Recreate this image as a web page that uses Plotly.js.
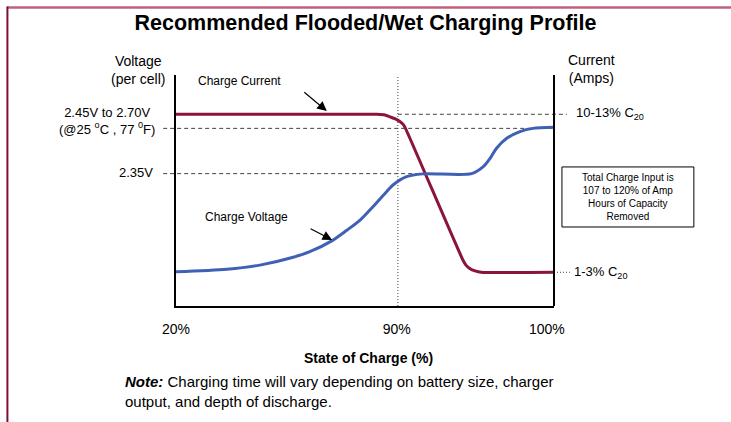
<!DOCTYPE html>
<html>
<head>
<meta charset="utf-8">
<script src="https://cdn.plot.ly/plotly-3.0.1.min.js"></script>
<style>
  html, body { margin: 0; padding: 0; background: #fff; }
  #chart { width: 731px; height: 422px; }
</style>
</head>
<body>
<div id="chart"></div>
<script>
// ---- Data (schematic units: x = position along state-of-charge axis 0..100, y = relative level 0..100)
const currentX = [0, 52.1, 53.2, 55.3, 56.6, 57.9, 59.3, 60.1, 60.8, 75.9, 76.7, 77.8, 79.1, 80.7, 100];
const currentY = [83.0, 83.0, 83.0, 82.7, 81.9, 81.1, 79.8, 78.6, 76.6, 19.9, 17.7, 16.1, 15.2, 14.6, 14.6];

const voltageX = [0, 13.5, 22.2, 31.0, 35.4, 41.2, 45.2, 48.7, 52.1, 55.7, 57.4, 61.0, 65.3, 78.2, 81.3, 83.1, 84.8, 87.5, 91.0, 94.4, 100];
const voltageY = [14.8, 15.9, 17.7, 21.1, 23.5, 28.2, 32.8, 37.2, 43.0, 49.5, 52.4, 56.0, 57.2, 57.3, 60.3, 63.9, 68.3, 72.6, 75.5, 76.9, 77.4];

// x tick labels (state of charge)
const socTickPos = [0, 58.4, 98.1];
const socTickText = ['20%', '90%', '100%'];

// reference levels
const levelCurrentHigh = 83.0;   // 10-13% C20
const levelCurrentLow = 14.6;    // 1-3% C20
const levelVoltHigh = 76.9;      // 2.45V to 2.70V
const levelVoltMid = 57.3;       // 2.35V
const soc90 = 58.7;              // 90% marker

const voltLabels = ['2.45V to 2.70V<br>(@25 <sup>o</sup>C , 77 <sup>0</sup>F)', '2.35V'];
const ampLabels = ['10-13% C<sub>20</sub>', '1-3% C<sub>20</sub>'];

const RED = '#8B1538';
const BLUE = '#4060B6';
const FONT = 'Arial, "Liberation Sans", sans-serif';
const DASH = '#444444';
const DASHSTYLE = '4px,3px';

const traces = [
  { x: currentX, y: currentY, type: 'scatter', mode: 'lines', line: { color: RED, width: 3, shape: 'spline', smoothing: 0.5 }, hoverinfo: 'skip' },
  { x: voltageX, y: voltageY, type: 'scatter', mode: 'lines', line: { color: BLUE, width: 3, shape: 'spline', smoothing: 0.8 }, hoverinfo: 'skip' }
];

// helpers: x/y range are 0..100 so paper = value/100
const P = v => v / 100;

const shapes = [
  // page border
  { type: 'line', xref: 'paper', yref: 'paper', x0: -0.447, x1: 1.47, y0: 1.292, y1: 1.292, line: { color: '#C0607E', width: 2.5 } },
  { type: 'line', xref: 'paper', yref: 'paper', x0: -0.446, x1: -0.446, y0: 1.296, y1: -0.51, line: { color: '#7E0F30', width: 2 } },
  // right axis
  { type: 'line', xref: 'paper', yref: 'paper', x0: 1, x1: 1, y0: 0, y1: 1, line: { color: '#000', width: 2 } },
  // 90% marker
  { type: 'line', xref: 'paper', yref: 'paper', x0: P(soc90), x1: P(soc90), y0: 0, y1: 1, line: { color: DASH, width: 1, dash: '1px,2px' }, layer: 'below' },
  // level lines
  { type: 'line', xref: 'paper', yref: 'paper', x0: P(soc90), x1: 1.034, y0: P(levelCurrentHigh), y1: P(levelCurrentHigh), line: { color: DASH, width: 1, dash: DASHSTYLE }, layer: 'below' },
  { type: 'line', xref: 'paper', yref: 'paper', x0: -0.034, x1: 1, y0: P(levelVoltHigh), y1: P(levelVoltHigh), line: { color: DASH, width: 1, dash: DASHSTYLE }, layer: 'below' },
  { type: 'line', xref: 'paper', yref: 'paper', x0: -0.034, x1: 0.664, y0: P(levelVoltMid), y1: P(levelVoltMid), line: { color: DASH, width: 1, dash: DASHSTYLE }, layer: 'below' },
  { type: 'line', xref: 'paper', yref: 'paper', x0: 1, x1: 1.042, y0: P(levelCurrentLow), y1: P(levelCurrentLow), line: { color: DASH, width: 1, dash: '1px,2px' }, layer: 'below' },
  // info box
  { type: 'rect', xref: 'paper', yref: 'paper', x0: 1.021, x1: 1.370, y0: 0.342, y1: 0.602, line: { color: '#000', width: 1 } }
];

const annotations = [
  { xref: 'paper', yref: 'paper', x: -0.1005, y: 1.022, text: 'Voltage<br>(per cell)', showarrow: false, xanchor: 'center', yanchor: 'middle', align: 'center', font: { family: FONT, size: 14, color: '#000' } },
  { xref: 'paper', yref: 'paper', x: 1.098, y: 1.028, text: 'Current<br>(Amps)', showarrow: false, xanchor: 'center', yanchor: 'middle', align: 'center', font: { family: FONT, size: 14, color: '#000' } },
  { xref: 'paper', yref: 'paper', x: -0.050, y: 0.799, text: voltLabels[0], showarrow: false, xanchor: 'right', yanchor: 'middle', align: 'center', font: { family: FONT, size: 13, color: '#000' } },
  { xref: 'paper', yref: 'paper', x: -0.055, y: P(levelVoltMid) + 0.005, text: voltLabels[1], showarrow: false, xanchor: 'right', yanchor: 'middle', font: { family: FONT, size: 13, color: '#000' } },
  { xref: 'paper', yref: 'paper', x: 1.053, y: P(levelCurrentHigh) + 0.004, text: ampLabels[0], showarrow: false, xanchor: 'left', yanchor: 'middle', font: { family: FONT, size: 13, color: '#000' } },
  { xref: 'paper', yref: 'paper', x: 1.047, y: P(levelCurrentLow), text: ampLabels[1], showarrow: false, xanchor: 'left', yanchor: 'middle', font: { family: FONT, size: 13, color: '#000' } },
  { xref: 'paper', yref: 'paper', x: 1.196, y: 0.472, text: 'Total Charge Input is<br>107 to 120% of Amp<br>Hours of Capacity<br>Removed', showarrow: false, xanchor: 'center', yanchor: 'middle', align: 'center', font: { family: FONT, size: 10, color: '#000' } },
  { xref: 'paper', yref: 'paper', x: 0.053, y: 0.974, text: 'Charge Current', showarrow: false, xanchor: 'left', yanchor: 'middle', font: { family: FONT, size: 12, color: '#000' } },
  { xref: 'paper', yref: 'paper', x: 0.071, y: 0.385, text: 'Charge Voltage', showarrow: false, xanchor: 'left', yanchor: 'middle', font: { family: FONT, size: 12, color: '#000' } },
  // arrows
  { xref: 'paper', yref: 'paper', x: 0.399, y: 0.844, ax: -24, ay: -20, text: '', showarrow: true, arrowhead: 2, arrowsize: 1.6, arrowwidth: 1.2, arrowcolor: '#000' },
  { xref: 'paper', yref: 'paper', x: 0.413, y: 0.286, ax: -23, ay: -12, text: '', showarrow: true, arrowhead: 2, arrowsize: 1.6, arrowwidth: 1.2, arrowcolor: '#000' },
  // x title
  { xref: 'paper', yref: 'paper', x: 0.508, y: -0.225, text: '<b>State of Charge (%)</b>', showarrow: false, xanchor: 'center', yanchor: 'middle', font: { family: FONT, size: 14, color: '#000' } },
  // note
  { xref: 'paper', yref: 'paper', x: -0.140, y: -0.37, text: '<b><i>Note:</i></b> Charging time will vary depending on battery size, charger<br>output, and depth of discharge.', showarrow: false, xanchor: 'left', yanchor: 'middle', align: 'left', font: { family: FONT, size: 15, color: '#000' } }
];

const layout = {
  width: 731, height: 422,
  margin: { l: 176, r: 177, t: 75, b: 116 },
  paper_bgcolor: '#fff', plot_bgcolor: '#fff',
  showlegend: false,
  hovermode: false,
  title: { text: '<b>Recommended Flooded/Wet Charging Profile</b>', x: 0.5, xref: 'container', xanchor: 'center', y: 1 - 22 / 422, yref: 'container', yanchor: 'middle', font: { family: FONT, size: 21.5, color: '#000' } },
  xaxis: { range: [0, 100], showline: true, linewidth: 2, linecolor: '#000', showgrid: false, zeroline: false, ticks: '', tickvals: socTickPos, ticktext: socTickText, tickfont: { family: FONT, size: 14, color: '#000' }, ticklabelstandoff: 9, fixedrange: true },
  yaxis: { range: [0, 100], showline: true, linewidth: 2, linecolor: '#000', showgrid: false, zeroline: false, ticks: '', showticklabels: false, fixedrange: true },
  shapes: shapes,
  annotations: annotations
};

Plotly.newPlot('chart', traces, layout, { displayModeBar: false, staticPlot: true });
</script>
</body>
</html>
